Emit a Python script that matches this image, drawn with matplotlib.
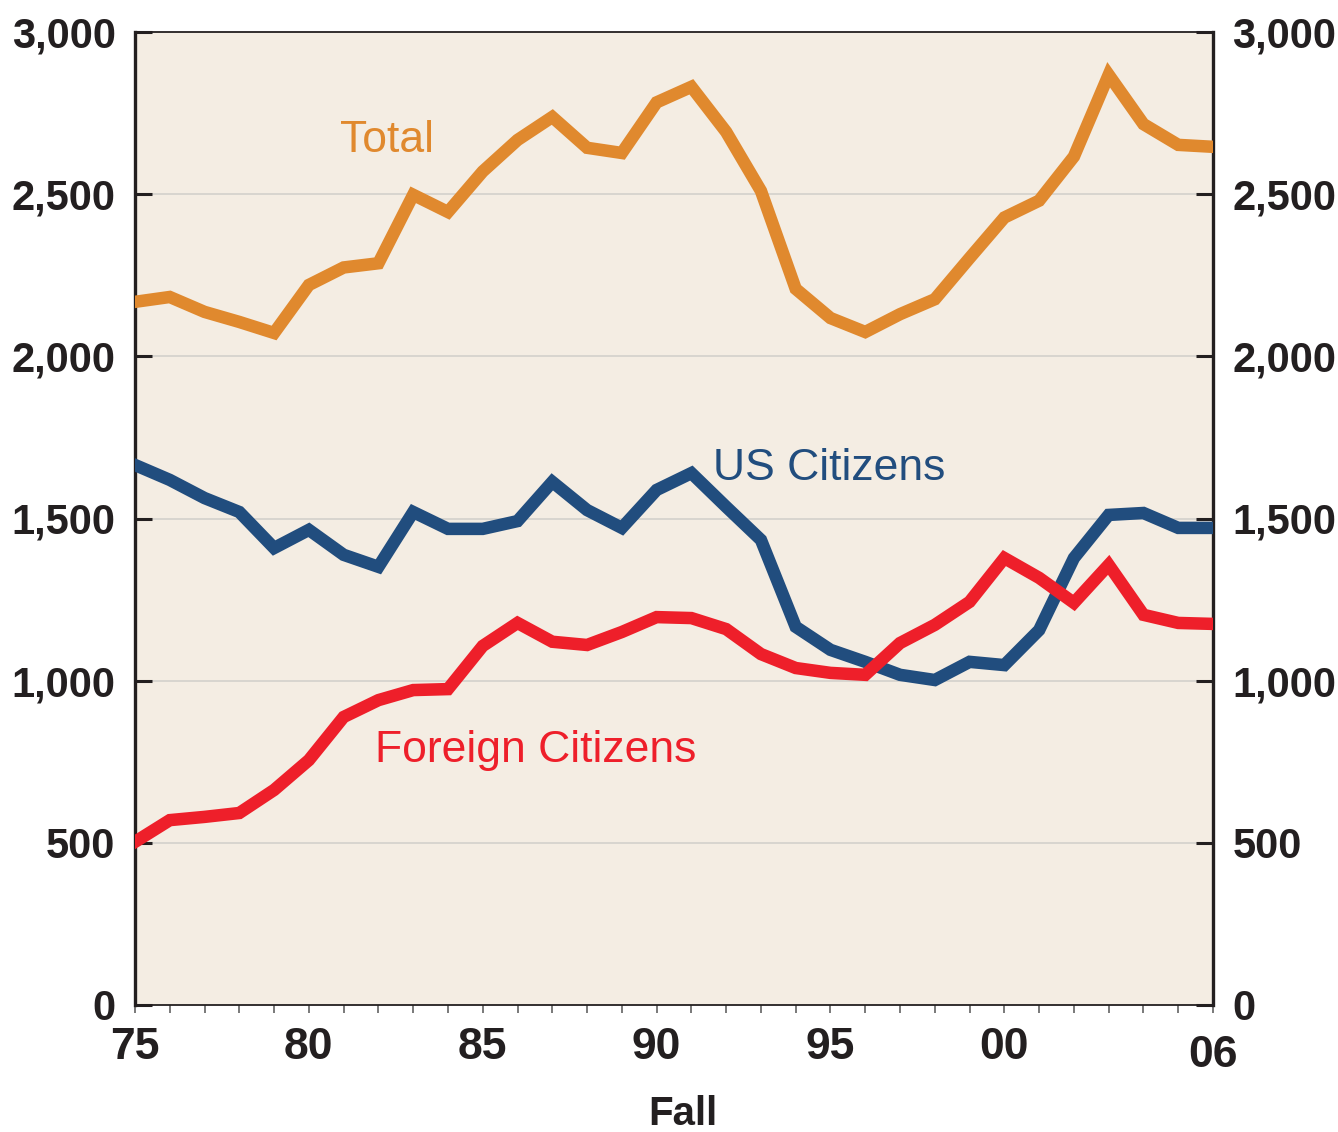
import numpy as np
import matplotlib
matplotlib.use("Agg")
import matplotlib.pyplot as plt
import matplotlib.transforms as mtransforms

# Dữ liệu
years = list(range(1975, 2007))
total = [2168, 2183, 2137, 2106, 2072, 2220, 2274, 2287, 2498, 2445,
         2570, 2667, 2738, 2643, 2627, 2783, 2831, 2692, 2510, 2208,
         2118, 2075, 2130, 2176, 2303, 2428, 2480, 2616, 2868, 2716,
         2652, 2646]
us_citizens = [1665, 1619, 1563, 1520, 1409, 1465, 1388, 1351, 1520, 1468,
               1468, 1492, 1613, 1526, 1471, 1588, 1640, 1536, 1434, 1166,
               1095, 1058, 1018, 1002, 1058, 1048, 1156, 1378, 1511, 1517,
               1471, 1471]
foreign = [503, 570, 580, 592, 663, 755, 888, 940, 971, 974,
           1107, 1178, 1120, 1110, 1150, 1196, 1193, 1159, 1082, 1039,
           1024, 1018, 1116, 1172, 1243, 1378, 1317, 1240, 1357, 1203,
           1178, 1175]

y_ticks = [0, 500, 1000, 1500, 2000, 2500, 3000]
x_label_map = {1975: "75", 1980: "80", 1985: "85", 1990: "90",
               1995: "95", 2000: "00", 2006: "06"}

mau_total = "#E0892E"
mau_us = "#214D7E"
mau_foreign = "#EE1F2A"
mau_nen = "#F4EDE3"
mau_den = "#231F20"

tick_font = ["Liberation Sans Narrow", "Liberation Sans", "DejaVu Sans"]
text_font = ["Liberation Sans", "DejaVu Sans"]

fig = plt.figure(figsize=(13.38, 11.32), dpi=100)
ax = fig.add_axes([135 / 1338, 127 / 1132, 1078 / 1338, 973 / 1132])
ax.set_facecolor(mau_nen)

# Lưới ngang
for v in y_ticks[1:-1]:
    ax.axhline(v, color="#D3D1CC", linewidth=1.2, zorder=1)

lw = 9
ax.plot(years, total, color=mau_total, linewidth=lw, solid_joinstyle="miter", zorder=3)
ax.plot(years, us_citizens, color=mau_us, linewidth=lw, solid_joinstyle="miter", zorder=3)
ax.plot(years, foreign, color=mau_foreign, linewidth=lw, solid_joinstyle="miter", zorder=4)

ax.set_xlim(1975, 2006)
ax.set_ylim(0, 3000)

# Nhãn chuỗi
ax.text(1980.9, 2630, "Total", color=mau_total, fontsize=32,
        family=text_font, ha="left", va="baseline")
ax.text(1991.62, 1619, "US Citizens", color=mau_us, fontsize=32,
        family=text_font, ha="left", va="baseline")
ax.text(1981.9, 749, "Foreign Citizens", color=mau_foreign, fontsize=32,
        family=text_font, ha="left", va="baseline")

# Trục y
ax.set_yticks(y_ticks)
ax.set_yticklabels([f"{v:,}" for v in y_ticks])
ax.tick_params(axis="y", direction="in", length=12, width=2.2, color=mau_den,
               left=True, right=True, labelleft=True, labelright=True,
               labelsize=30, pad=14, labelcolor=mau_den)

# Trục x
ax.set_xticks(years)
ax.set_xticklabels([x_label_map.get(y, "") for y in years])
ax.tick_params(axis="x", direction="out", length=6, width=1.1, color="#555555",
               labelsize=32, pad=10, labelcolor=mau_den)
for lbl in ax.get_yticklabels() + ax.get_xticklabels():
    lbl.set_fontfamily(tick_font)
    lbl.set_fontweight("bold")
for t in ax.yaxis.get_major_ticks():
    t.label2.set_fontfamily(tick_font)
    t.label2.set_fontweight("bold")

# Nhãn "06" thấp hơn một chút
for lbl in ax.get_xticklabels():
    if lbl.get_text() == "06":
        offset = mtransforms.ScaledTranslation(0, -8 / 100, fig.dpi_scale_trans)
        lbl.set_transform(lbl.get_transform() + offset)

ax.set_xlabel("Fall", fontsize=29, fontweight="bold", family=text_font,
              color=mau_den)
ax.xaxis.set_label_coords((683 - 135) / 1078, -0.092)

for side in ["left", "right"]:
    ax.spines[side].set_linewidth(2.4)
    ax.spines[side].set_color(mau_den)
for side in ["top", "bottom"]:
    ax.spines[side].set_linewidth(1.3)
    ax.spines[side].set_color(mau_den)

fig.savefig("out.png", dpi=100, facecolor="white")
